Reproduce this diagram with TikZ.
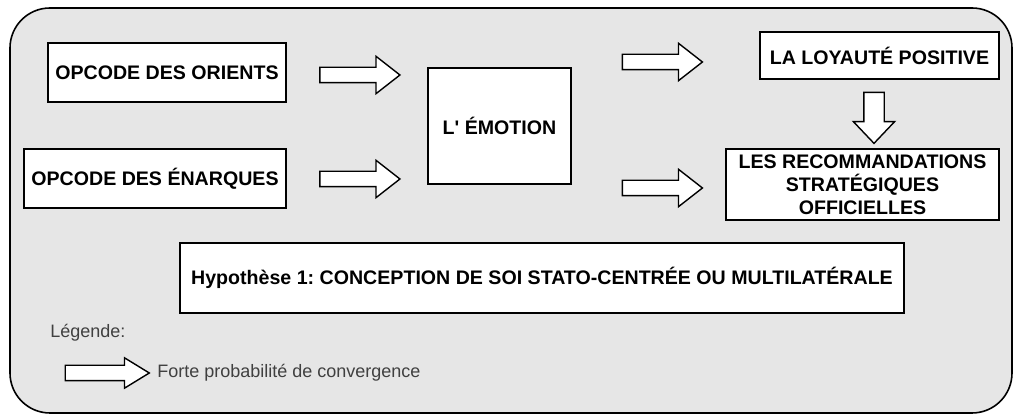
\documentclass[tikz,border=0pt]{standalone}
\usepackage{fontspec}
\setmainfont{Liberation Sans}
\usetikzlibrary{shapes.arrows}
\definecolor{framegray}{RGB}{230,230,230}
\frenchspacing
\begin{document}
\begin{tikzpicture}[x=0.5pt,y=-0.5pt,
    box/.style={draw, fill=white, line width=0.8pt, inner sep=0pt, align=center,
        font=\bfseries\fontsize{9.8}{11.5}\selectfont},
    fatarrow/.style={single arrow, draw, fill=white, line width=0.7pt,
        inner sep=0pt, inner ysep=3.5pt, minimum width=0pt, minimum height=40pt,
        single arrow head extend=5.5pt, single arrow tip angle=76},
    legendtext/.style={font=\fontsize{9}{11}\selectfont, text=black!75,
        inner sep=0pt, anchor=west}]
    \useasboundingbox (0,0) rectangle (1014,415);

    % frame
    \draw[fill=framegray, line width=0.8pt, rounded corners=20pt] (10,8) rectangle (1012,413);

    % sources
    \node[box, minimum width=119pt, minimum height=29.5pt] (orients) at (167,72.5) {OPCODE DES ORIENTS};
    \node[box, minimum width=131pt, minimum height=29.5pt] (enarques) at (155,178.5) {OPCODE DES ÉNARQUES};

    % middle and outcomes
    \node[box, minimum width=71.5pt, minimum height=58pt] (emotion) at (499.5,126) {L\textquotesingle\ ÉMOTION};
    \node[box, minimum width=119.5pt, minimum height=23.5pt] (loyaute) at (879.5,55.5) {LA LOYAUTÉ POSITIVE};
    \node[box, minimum width=136.5pt, minimum height=35.5pt] (recom) at (862.5,184.5)
        {LES RECOMMANDATIONS\\STRATÉGIQUES\\OFFICIELLES};

    % hypothesis
    \node[box, minimum width=362pt, minimum height=35pt] (hypo) at (542,278)
        {Hypothèse 1: CONCEPTION DE SOI STATO-CENTRÉE OU MULTILATÉRALE};

    % block arrows
    \node[fatarrow] (a1) at (355,75) {};
    \node[fatarrow] (a2) at (355,179) {};
    \node[fatarrow] (a3) at (657.5,62) {};
    \node[fatarrow] (a4) at (657.5,188) {};
    \node[fatarrow, rotate=-90, inner ysep=4.75pt, minimum height=25.5pt,
        single arrow head extend=5.25pt, single arrow tip angle=87] (down) at (874,112.5) {};

    % legend
    \node[legendtext] (legende) at (50,333) {Légende:};
    \node[fatarrow, minimum height=42pt, single arrow head extend=3.75pt,
        single arrow tip angle=63] (legarrow) at (101,373) {};
    \node[legendtext] (legdesc) at (157,373) {Forte probabilité de convergence};
\end{tikzpicture}
\end{document}
